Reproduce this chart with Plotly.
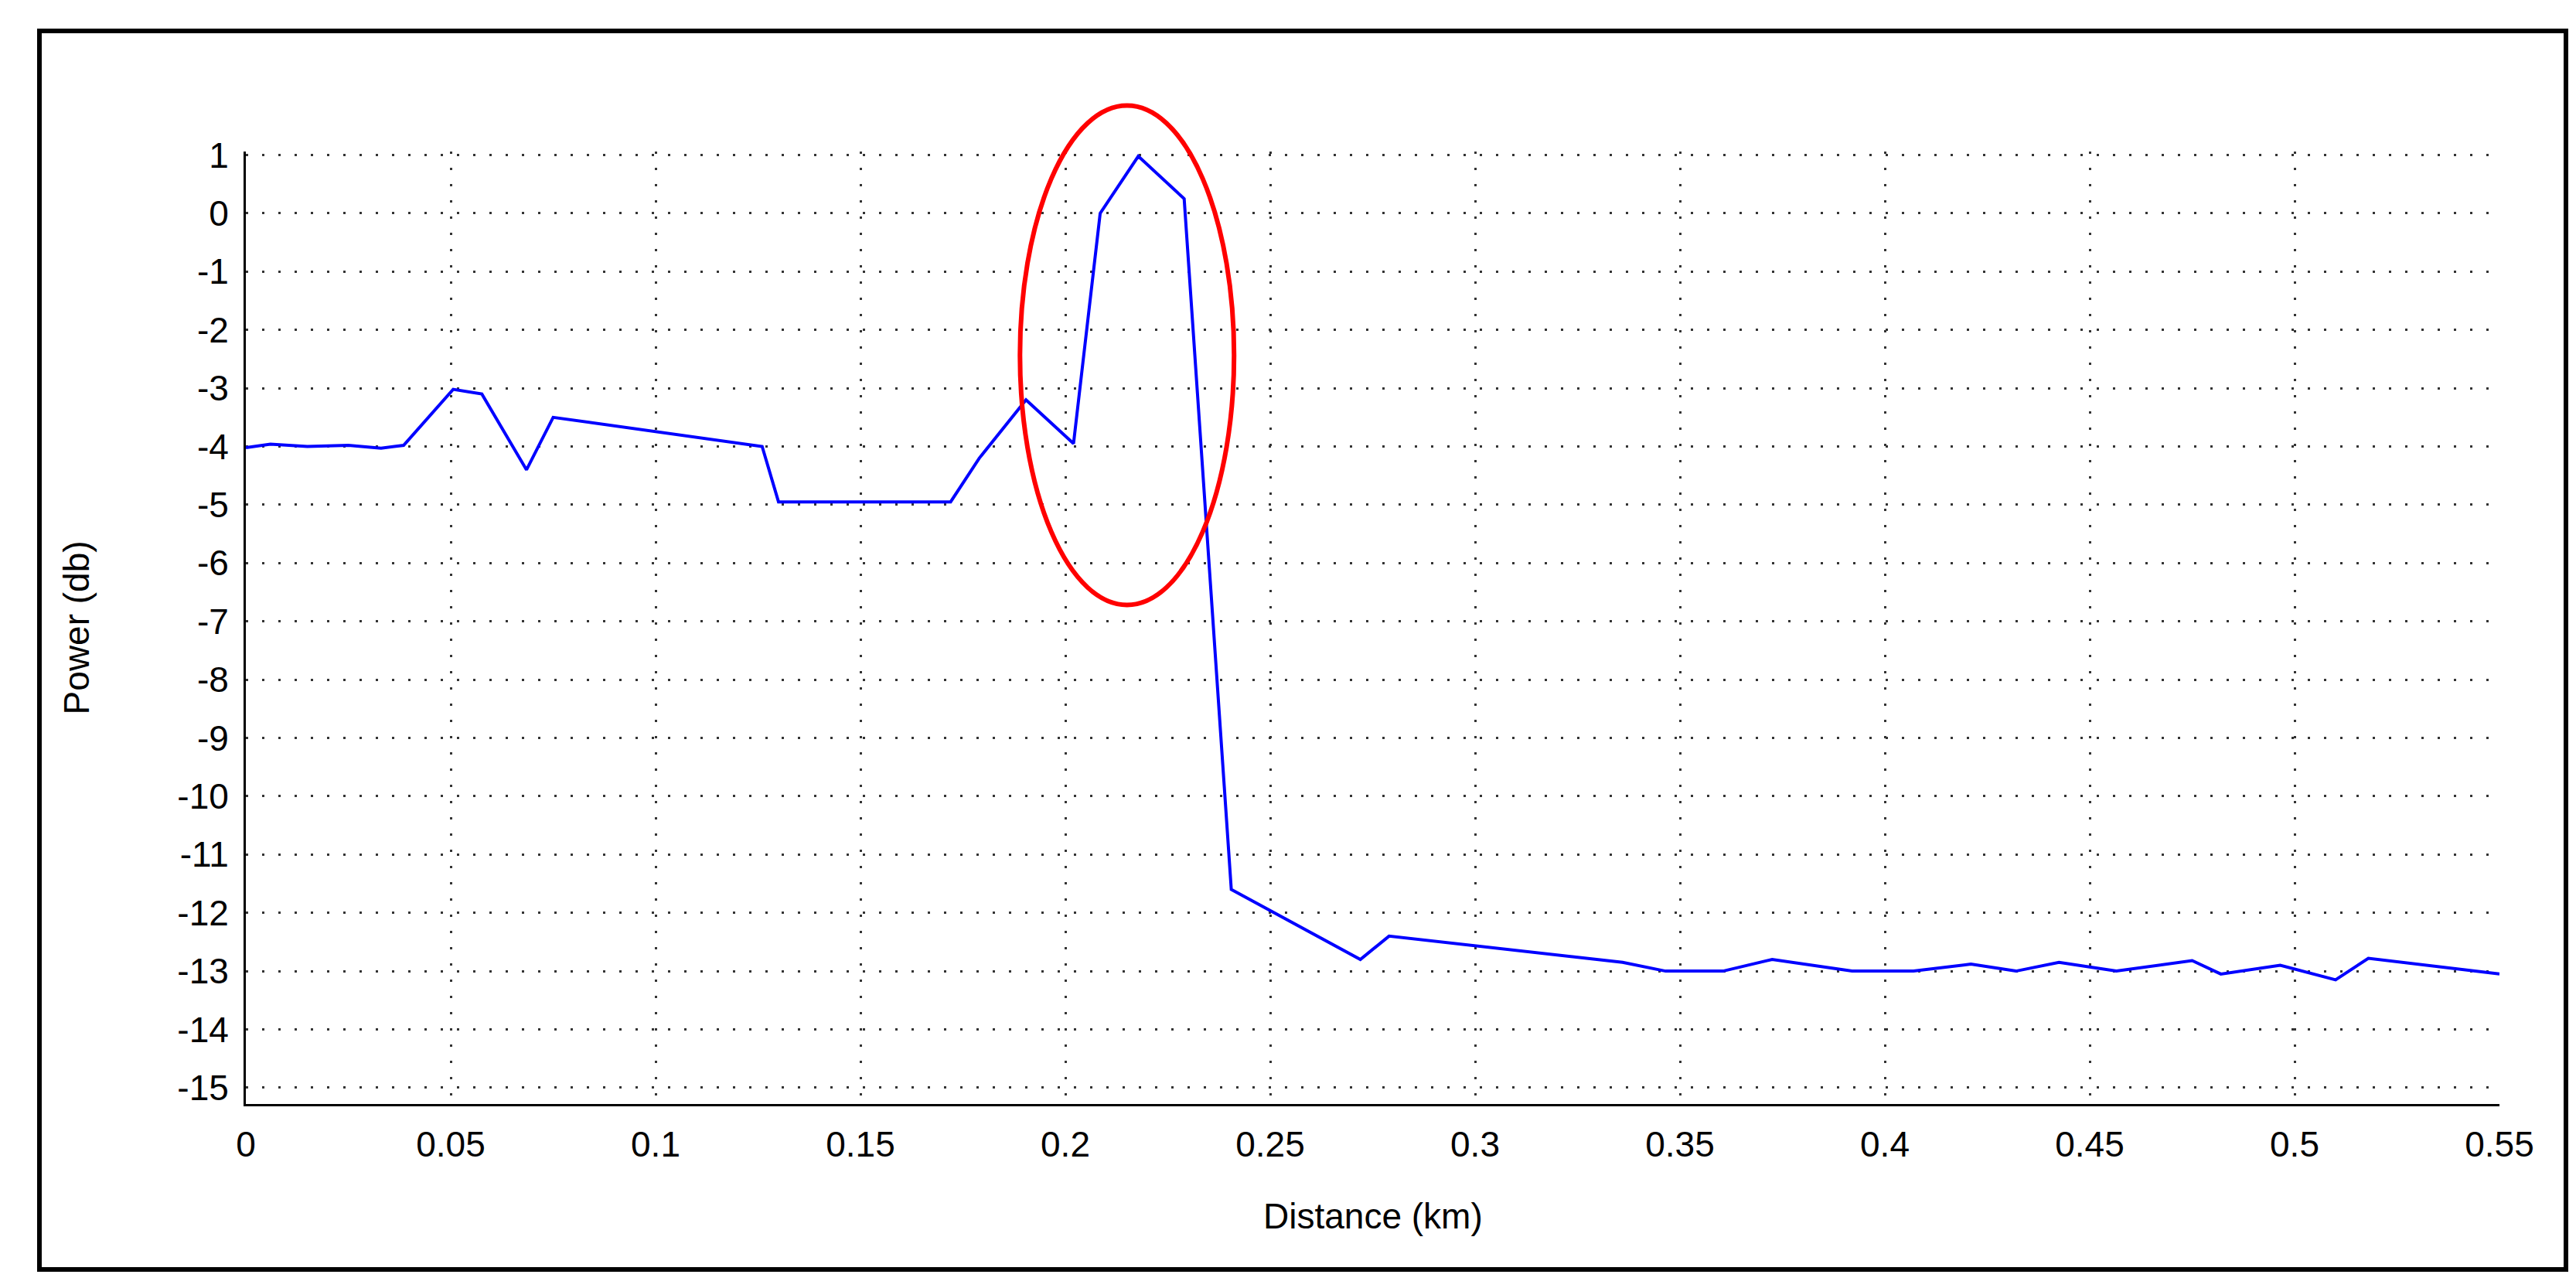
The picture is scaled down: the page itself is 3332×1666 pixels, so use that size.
import plotly.graph_objects as go

distance_km = [0, 0.006, 0.015, 0.025, 0.033, 0.0385, 0.0506, 0.0576, 0.0685, 0.075, 0.126, 0.130,
               0.172, 0.179, 0.1904, 0.202, 0.2085, 0.2178, 0.229, 0.2405, 0.272, 0.279, 0.336,
               0.3465, 0.3605, 0.3725, 0.392, 0.407, 0.421, 0.432, 0.4425, 0.4565, 0.475, 0.482,
               0.4965, 0.510, 0.518, 0.55]
power_db = [-4.02, -3.96, -4.0, -3.98, -4.03, -3.98, -3.02, -3.1, -4.4, -3.5, -4.0, -4.95,
            -4.95, -4.2, -3.2, -3.95, 0.0, 0.98, 0.25, -11.6, -12.8, -12.4, -12.85,
            -13.0, -13.0, -12.8, -13.0, -13.0, -12.88, -13.0, -12.85, -13.0, -12.82, -13.05,
            -12.9, -13.15, -12.78, -13.05]
x_ticks = [0, 0.05, 0.1, 0.15, 0.2, 0.25, 0.3, 0.35, 0.4, 0.45, 0.5, 0.55]
x_labels = ["0", "0.05", "0.1", "0.15", "0.2", "0.25", "0.3", "0.35", "0.4", "0.45", "0.5", "0.55"]
y_ticks = list(range(-15, 2))
y_labels = [str(v) for v in y_ticks]

fig = go.Figure(go.Scatter(x=distance_km, y=power_db, mode="lines",
                           line=dict(color="#0000ff", width=4)))
font = dict(family="Liberation Sans, Arial", size=46, color="black")
grid = dict(showgrid=True, gridcolor="#333333", griddash="3px,18px", gridwidth=3)
fig.update_layout(
    width=3332, height=1666, paper_bgcolor="white", plot_bgcolor="white",
    margin=dict(l=310, r=107, t=188, b=246), showlegend=False, font=font,
    xaxis=dict(range=[0, 0.55], tickvals=x_ticks, ticktext=x_labels, showline=True,
               linecolor="black", linewidth=3, zeroline=False, ticks="", tickfont=font,
               ticklabelstandoff=10, **grid),
    yaxis=dict(range=[-15.28, 1.06], tickvals=y_ticks, ticktext=y_labels, showline=True,
               linecolor="black", linewidth=3, zeroline=False, ticks="", tickfont=font,
               ticklabelstandoff=10, **grid),
)
fig.add_shape(type="circle", xref="paper", yref="paper", x0=0.3435, x1=0.4385,
              y0=0.5239, y1=1.0483, line=dict(color="#ff0000", width=6))
fig.add_shape(type="rect", xref="paper", yref="paper", x0=-0.0916, x1=1.0295,
              y0=-0.1737, y1=1.1266, line=dict(color="black", width=6))
fig.add_annotation(text="Distance (km)", xref="paper", yref="paper", x=0.5, y=-0.118,
                   showarrow=False, font=font, yanchor="middle")
fig.add_annotation(text="Power (db)", xref="paper", yref="paper", x=-0.075, y=0.5,
                   textangle=-90, showarrow=False, font=font, xanchor="center")
fig.write_html("out.html")
